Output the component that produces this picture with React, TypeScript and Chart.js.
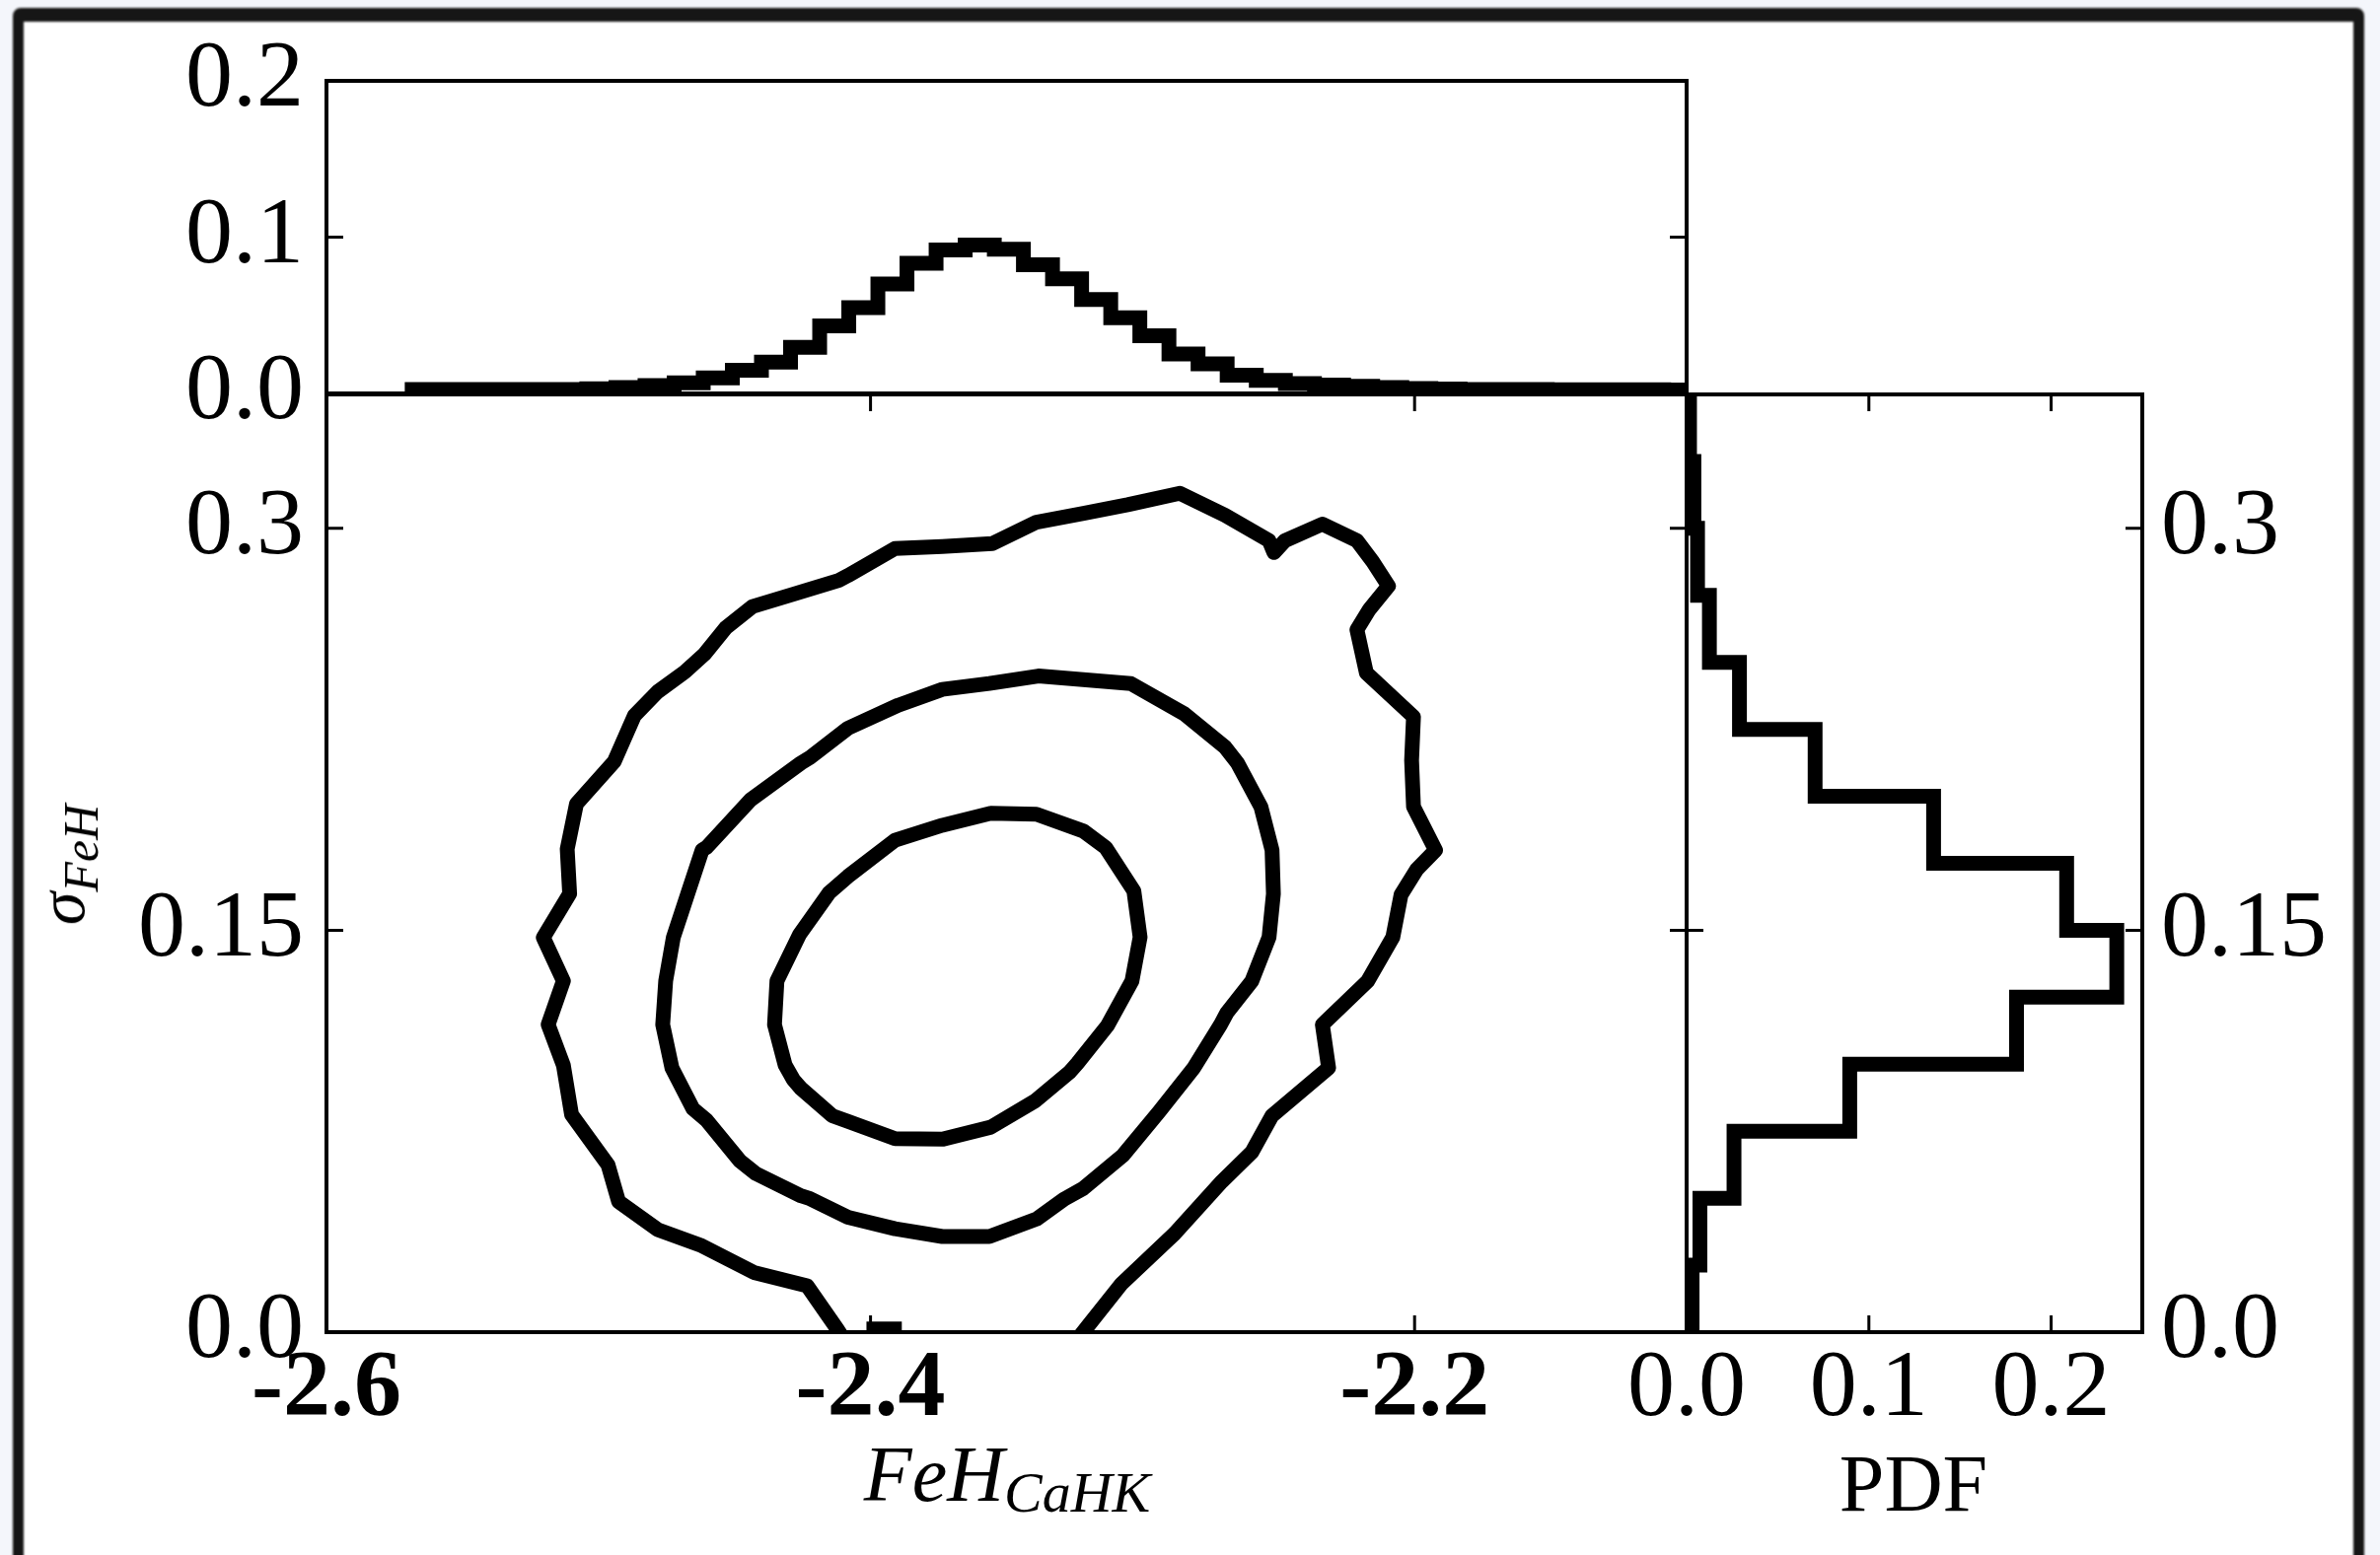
import React, { useEffect, useRef } from "react";
import { Chart, registerables } from "chart.js";

Chart.register(...registerables);

// ---------------- axis ranges & ticks ----------------
const FEH_RANGE = [-2.6, -2.1];
const SIGMA_RANGE = [0, 0.35];
const TOP_PDF_RANGE = [0, 0.2];
const SIDE_PDF_RANGE = [0, 0.25];

const FEH_TICKS = [-2.6, -2.4, -2.2];
const FEH_TICK_LABELS = ["-2.6", "-2.4", "-2.2"];
const SIGMA_TICKS = [0, 0.15, 0.3];
const SIGMA_TICK_LABELS = ["0.0", "0.15", "0.3"];
const TOP_PDF_TICKS = [0, 0.1, 0.2];
const TOP_PDF_TICK_LABELS = ["0.0", "0.1", "0.2"];
const SIDE_PDF_TICKS = [0, 0.1, 0.2];
const SIDE_PDF_TICK_LABELS = ["0.0", "0.1", "0.2"];

// ---------------- marginal histogram of FeH_CaHK ----------------
const FEH_BIN_START = -2.5685;
const FEH_BIN_WIDTH = 0.0107;
const FEH_PDF = [
  0.0025, 0.0025, 0.0025, 0.0025, 0.0025, 0.0025, 0.003, 0.0038, 0.005,
  0.0068, 0.0099, 0.0148, 0.02, 0.0295, 0.0432, 0.0549, 0.07, 0.0833,
  0.0918, 0.0949, 0.0922, 0.0823, 0.0734, 0.0601, 0.0485, 0.0369, 0.0253,
  0.019, 0.0116, 0.0084, 0.0063, 0.0053, 0.0046, 0.0038, 0.0032, 0.0028,
  0.0026, 0.0025, 0.0025, 0.0024, 0.0024, 0.0023, 0.0023, 0.0022, 0.0022,
  0.0021, 0.0021,
];

// ---------------- marginal histogram of sigma_FeH ----------------
const SIGMA_BIN_START = 0;
const SIGMA_BIN_WIDTH = 0.025;
const SIGMA_PDF = [
  0.003, 0.0073, 0.026, 0.0895, 0.181, 0.236, 0.2085, 0.1355, 0.0705, 0.029,
  0.0125, 0.006, 0.004, 0.0016,
];

// ---------------- joint density contours (FeH, sigma) ----------------
const CONTOUR_OUTER = [
  [-2.409, -0.004], [-2.4122, 0.0011], [-2.4233, 0.0173], [-2.4429, 0.0223],
  [-2.4626, 0.0325], [-2.4783, 0.0383], [-2.4926, 0.0487], [-2.4965, 0.0624],
  [-2.5099, 0.0812], [-2.5129, 0.0996], [-2.5185, 0.1148], [-2.5129, 0.1311],
  [-2.5203, 0.1473], [-2.5106, 0.1636], [-2.5115, 0.1803], [-2.5081, 0.1972],
  [-2.4942, 0.213], [-2.4868, 0.2301], [-2.4783, 0.239], [-2.4683, 0.2464],
  [-2.461, 0.2531], [-2.4533, 0.2628], [-2.4434, 0.2708], [-2.4272, 0.2758],
  [-2.4117, 0.2806], [-2.4083, 0.2824], [-2.391, 0.2925], [-2.3736, 0.2932],
  [-2.3552, 0.2943], [-2.339, 0.3023], [-2.3217, 0.3056], [-2.3055, 0.3088],
  [-2.2863, 0.3131], [-2.2697, 0.3049], [-2.2535, 0.2954], [-2.2517, 0.291],
  [-2.2477, 0.2954], [-2.2339, 0.3016], [-2.2212, 0.2954], [-2.2154, 0.2876],
  [-2.2096, 0.2785], [-2.2166, 0.2698], [-2.2212, 0.2622], [-2.2177, 0.246],
  [-2.2004, 0.2297], [-2.2011, 0.2134], [-2.2004, 0.1961], [-2.1923, 0.1799],
  [-2.1992, 0.1727], [-2.205, 0.1632], [-2.208, 0.1474], [-2.2172, 0.1311],
  [-2.2339, 0.1148], [-2.2316, 0.0986], [-2.2524, 0.0808], [-2.2598, 0.0672],
  [-2.2708, 0.0563], [-2.2882, 0.0368], [-2.3078, 0.018], [-2.321, 0.0011],
  [-2.325, -0.004],
];

const CONTOUR_MIDDLE = [
  [-2.3383, 0.2449], [-2.3043, 0.2421], [-2.2847, 0.2308], [-2.2697, 0.2184],
  [-2.2651, 0.2124], [-2.2565, 0.1961], [-2.2524, 0.1799], [-2.2519, 0.1636],
  [-2.2535, 0.1474], [-2.2598, 0.1311], [-2.269, 0.1192], [-2.2713, 0.1148],
  [-2.2812, 0.0986], [-2.2939, 0.0823], [-2.3071, 0.0661], [-2.3217, 0.0537],
  [-2.3286, 0.0498], [-2.339, 0.0422], [-2.3563, 0.0357], [-2.3736, 0.0357],
  [-2.391, 0.0386], [-2.4083, 0.0429], [-2.4222, 0.0498], [-2.4256, 0.0509],
  [-2.4422, 0.0592], [-2.448, 0.0639], [-2.4603, 0.0791], [-2.4653, 0.0834],
  [-2.473, 0.0986], [-2.4764, 0.1148], [-2.4753, 0.1311], [-2.4725, 0.1473],
  [-2.4672, 0.1636], [-2.4619, 0.1799], [-2.4603, 0.1809], [-2.4441, 0.1987],
  [-2.4256, 0.2124], [-2.4222, 0.2145], [-2.4083, 0.2254], [-2.3898, 0.234],
  [-2.3736, 0.2399], [-2.3563, 0.2421], [-2.3383, 0.2449],
];

const CONTOUR_INNER = [
  [-2.3558, 0.1937], [-2.339, 0.1933], [-2.3217, 0.187], [-2.3136, 0.1809],
  [-2.3032, 0.1647], [-2.3009, 0.1474], [-2.3039, 0.1311], [-2.3129, 0.1144],
  [-2.324, 0.1003], [-2.3268, 0.0971], [-2.3395, 0.0863], [-2.3558, 0.0765],
  [-2.3736, 0.072], [-2.391, 0.0722], [-2.4083, 0.0787], [-2.4141, 0.0808],
  [-2.4256, 0.091], [-2.4284, 0.0943], [-2.4314, 0.0997], [-2.4353, 0.1148],
  [-2.4344, 0.1311], [-2.4261, 0.1484], [-2.4152, 0.164], [-2.4083, 0.1701],
  [-2.391, 0.1836], [-2.3736, 0.1892], [-2.3558, 0.1937],
];

// small island of the outermost level sitting on the sigma = 0 edge
const CONTOUR_ISLAND = [
  [-2.4015, 0.0012], [-2.3885, 0.0012],
];

// ---------------- helpers ----------------
const FONT = "'Liberation Serif', 'Times New Roman', serif";
const LINE_W = 15;

type Pt = { x: number; y: number };

const toPoints = (arr: number[][]): Pt[] => arr.map(([x, y]) => ({ x, y }));

// step outline of a histogram along x (values are heights)
function stepAlongX(start: number, width: number, vals: number[]): Pt[] {
  const pts: Pt[] = [{ x: start, y: 0 }];
  vals.forEach((v, i) => {
    pts.push({ x: start + i * width, y: v });
    pts.push({ x: start + (i + 1) * width, y: v });
  });
  pts.push({ x: start + vals.length * width, y: 0 });
  return pts;
}

// step outline of a histogram along y (values are horizontal extents)
function stepAlongY(start: number, width: number, vals: number[]): Pt[] {
  const pts: Pt[] = [{ x: 0, y: start }];
  vals.forEach((v, i) => {
    pts.push({ x: v, y: start + i * width });
    pts.push({ x: v, y: start + (i + 1) * width });
  });
  pts.push({ x: 0, y: start + vals.length * width });
  return pts;
}

function lineSet(data: Pt[], extra: Record<string, unknown> = {}) {
  return {
    data,
    showLine: true,
    borderColor: "#000",
    backgroundColor: "#000",
    borderWidth: LINE_W,
    pointRadius: 0,
    pointHoverRadius: 0,
    fill: false,
    tension: 0,
    clip: 0,
    borderJoinStyle: "round",
    borderCapStyle: "round",
    ...extra,
  };
}

interface AxisOpts {
  range: number[];
  ticks: number[];
  labels: string[];
  display: boolean;
  position: string;
  size?: number;
  padding?: number;
  bold?: boolean;
}

function axis(o: AxisOpts) {
  return {
    type: "linear",
    position: o.position,
    display: o.display,
    min: o.range[0],
    max: o.range[1],
    grid: { display: false, drawTicks: false },
    border: { display: false },
    afterBuildTicks: (s: any) => {
      s.ticks = o.ticks.map((v) => ({ value: v }));
    },
    afterFit: (s: any) => {
      if (o.size == null) return;
      if (s.isHorizontal()) s.height = o.size;
      else s.width = o.size;
    },
    ticks: {
      autoSkip: false,
      maxRotation: 0,
      minRotation: 0,
      color: "#000",
      padding: o.padding ?? 10,
      font: {
        family: FONT,
        size: 96,
        weight: o.bold ? "bold" : "normal",
        lineHeight: 1,
      },
      callback: (_v: any, i: number) => o.labels[i] ?? "",
    },
  };
}

// axes box and inward-pointing tick marks, drawn above the data like spines
const panelFrame = {
  id: "panelFrame",
  afterDatasetsDraw(chart: any, _args: any, opts: any) {
    const { ctx, chartArea: a, scales } = chart;
    const len = 17;
    ctx.save();
    ctx.strokeStyle = "#000";
    ctx.lineWidth = 3;
    ctx.beginPath();
    for (const v of opts.xTicks || []) {
      const px = scales.x.getPixelForValue(v);
      ctx.moveTo(px, a.bottom);
      ctx.lineTo(px, a.bottom - len);
      ctx.moveTo(px, a.top);
      ctx.lineTo(px, a.top + len);
    }
    for (const v of opts.yTicks || []) {
      const py = scales.y.getPixelForValue(v);
      ctx.moveTo(a.left, py);
      ctx.lineTo(a.left + len, py);
      ctx.moveTo(a.right, py);
      ctx.lineTo(a.right - len, py);
    }
    ctx.stroke();
    ctx.lineWidth = 4;
    ctx.strokeRect(a.left, a.top, a.right - a.left, a.bottom - a.top);
    ctx.restore();
  },
};

function baseOptions(padding: Record<string, number>, frame: any, scales: any) {
  return {
    animation: false,
    responsive: false,
    devicePixelRatio: 1,
    events: [],
    layout: { padding },
    plugins: {
      legend: { display: false },
      tooltip: { enabled: false },
      panelFrame: frame,
    },
    scales,
  };
}

export default function App() {
  const topRef = useRef<HTMLCanvasElement>(null);
  const mainRef = useRef<HTMLCanvasElement>(null);
  const sideRef = useRef<HTMLCanvasElement>(null);

  useEffect(() => {
    const topChart = new Chart(topRef.current as HTMLCanvasElement, {
      type: "scatter",
      data: {
        datasets: [lineSet(stepAlongX(FEH_BIN_START, FEH_BIN_WIDTH, FEH_PDF), { borderJoinStyle: "miter", borderCapStyle: "butt" })],
      },
      options: baseOptions(
        { top: 82, right: 90, bottom: 70, left: 0 },
        { yTicks: TOP_PDF_TICKS },
        {
          x: axis({ range: FEH_RANGE, ticks: FEH_TICKS, labels: [], display: false, position: "bottom" }),
          y: axis({ range: TOP_PDF_RANGE, ticks: TOP_PDF_TICKS, labels: TOP_PDF_TICK_LABELS, display: true, position: "left", size: 331, padding: 23 }),
        }
      ) as any,
      plugins: [panelFrame],
    } as any);

    const mainChart = new Chart(mainRef.current as HTMLCanvasElement, {
      type: "scatter",
      data: {
        datasets: [
          lineSet(toPoints(CONTOUR_OUTER)),
          lineSet(toPoints(CONTOUR_MIDDLE)),
          lineSet(toPoints(CONTOUR_INNER)),
          lineSet(toPoints(CONTOUR_ISLAND), { borderCapStyle: "butt" }),
        ],
      },
      options: baseOptions(
        { top: 100, right: 90, bottom: 0, left: 0 },
        { xTicks: FEH_TICKS, yTicks: SIGMA_TICKS },
        {
          x: axis({ range: FEH_RANGE, ticks: FEH_TICKS, labels: FEH_TICK_LABELS, display: true, position: "bottom", size: 226, padding: 11, bold: true }),
          y: axis({ range: SIGMA_RANGE, ticks: SIGMA_TICKS, labels: SIGMA_TICK_LABELS, display: true, position: "left", size: 331, padding: 23 }),
        }
      ) as any,
      plugins: [panelFrame],
    } as any);

    const sideChart = new Chart(sideRef.current as HTMLCanvasElement, {
      type: "scatter",
      data: {
        datasets: [lineSet(stepAlongY(SIGMA_BIN_START, SIGMA_BIN_WIDTH, SIGMA_PDF), { borderJoinStyle: "miter", borderCapStyle: "butt" })],
      },
      options: baseOptions(
        { top: 100, right: 0, bottom: 0, left: 110 },
        { xTicks: SIDE_PDF_TICKS, yTicks: SIGMA_TICKS },
        {
          x: axis({ range: SIDE_PDF_RANGE, ticks: SIDE_PDF_TICKS, labels: SIDE_PDF_TICK_LABELS, display: true, position: "bottom", size: 226, padding: 11 }),
          y: axis({ range: SIGMA_RANGE, ticks: SIGMA_TICKS, labels: SIGMA_TICK_LABELS, display: true, position: "right", size: 241, padding: 19 }),
        }
      ) as any,
      plugins: [panelFrame],
    } as any);

    return () => {
      topChart.destroy();
      mainChart.destroy();
      sideChart.destroy();
    };
  }, []);

  const abs = (left: number, top: number, width: number, height: number): React.CSSProperties => ({
    position: "absolute",
    left,
    top,
    width,
    height,
  });

  return (
    <div style={{ ...abs(0, 0, 2413, 1577), overflow: "hidden", background: "#f4f6fb" }}>
      {/* paper */}
      <div style={{ ...abs(13, 8, 2384, 1580), background: "#fff", borderRadius: 8 }} />
      {/* dark frame around the paper */}
      <div
        style={{
          ...abs(13, 8, 2384, 1580),
          boxSizing: "border-box",
          borderStyle: "solid",
          borderColor: "#161616",
          borderWidth: "14px 11px 8px 11px",
          borderRadius: 8,
          filter: "blur(1.2px)",
        }}
      />
      <canvas ref={topRef} width={1800} height={470} style={abs(0, 0, 1800, 470)} />
      <canvas ref={mainRef} width={1800} height={1277} style={abs(0, 300, 1800, 1277)} />
      <canvas ref={sideRef} width={813} height={1277} style={abs(1600, 300, 813, 1277)} />

      {/* axis titles */}
      <div
        style={{
          position: "absolute",
          left: 1021,
          top: 1455,
          transform: "translateX(-50%)",
          fontFamily: FONT,
          fontStyle: "italic",
          fontSize: 80,
          lineHeight: 1,
          whiteSpace: "nowrap",
          color: "#000",
        }}
      >
        FeH
        <span style={{ fontSize: 58, position: "relative", top: 11 }}>CaHK</span>
      </div>
      <div
        style={{
          position: "absolute",
          left: 1940,
          top: 1464,
          transform: "translateX(-50%)",
          fontFamily: FONT,
          fontSize: 82,
          lineHeight: 1,
          whiteSpace: "nowrap",
          color: "#000",
        }}
      >
        PDF
      </div>
      <div
        style={{
          position: "absolute",
          left: 62,
          top: 877,
          transform: "translate(-50%, -50%) rotate(-90deg)",
          fontFamily: FONT,
          fontStyle: "italic",
          fontSize: 68,
          lineHeight: 1,
          whiteSpace: "nowrap",
          color: "#000",
        }}
      >
        σ<span style={{ fontSize: 50, position: "relative", top: 14 }}>FeH</span>
      </div>
    </div>
  );
}
